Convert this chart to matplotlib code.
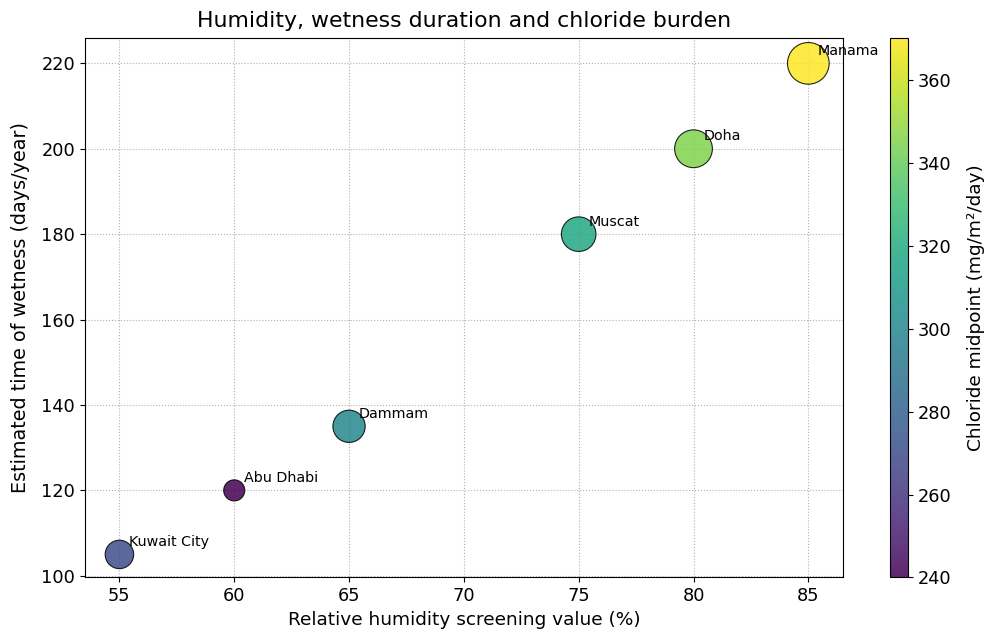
import matplotlib
matplotlib.use("Agg")
import matplotlib.pyplot as plt
import numpy as np

cities = ["Kuwait City", "Abu Dhabi", "Dammam", "Muscat", "Doha", "Manama"]
humidity = [55, 60, 65, 75, 80, 85]
wetness_days = [105, 120, 135, 180, 200, 220]
chloride = [270, 240, 300, 318, 345, 370]
bubble_size = [420, 230, 540, 620, 740, 900]

fig = plt.figure(figsize=(9.88, 6.36), dpi=100)
ax = fig.add_axes([0.086, 0.092, 0.767, 0.848])
cax = fig.add_axes([0.901, 0.092, 0.018, 0.848])

sc = ax.scatter(humidity, wetness_days, s=bubble_size, c=chloride, cmap="viridis",
                vmin=240, vmax=370, alpha=0.85, edgecolors="black", linewidths=0.8, zorder=3)
for name, x, y in zip(cities, humidity, wetness_days):
    ax.annotate(name, (x, y), xytext=(7, 6), textcoords="offset points", fontsize=10.3, zorder=4)

ax.set_xlim(53.5, 86.5)
ax.set_ylim(99.6, 225.9)
ax.set_xticks([55, 60, 65, 70, 75, 80, 85])
ax.set_yticks([100, 120, 140, 160, 180, 200, 220])
ax.tick_params(labelsize=12.8)
ax.grid(True, linestyle=":", color="#b0b0b0", linewidth=0.8, zorder=0)
ax.set_axisbelow(True)
ax.set_xlabel("Relative humidity screening value (%)", fontsize=13.3)
ax.set_ylabel("Estimated time of wetness (days/year)", fontsize=13.8, labelpad=8)
ax.set_title("Humidity, wetness duration and chloride burden", fontsize=15.8, pad=8)

cb = fig.colorbar(sc, cax=cax)
cb.set_label("Chloride midpoint (mg/m²/day)", fontsize=13.3, labelpad=11)
cb.ax.tick_params(labelsize=12.8)

fig.savefig("out.png", dpi=100)
